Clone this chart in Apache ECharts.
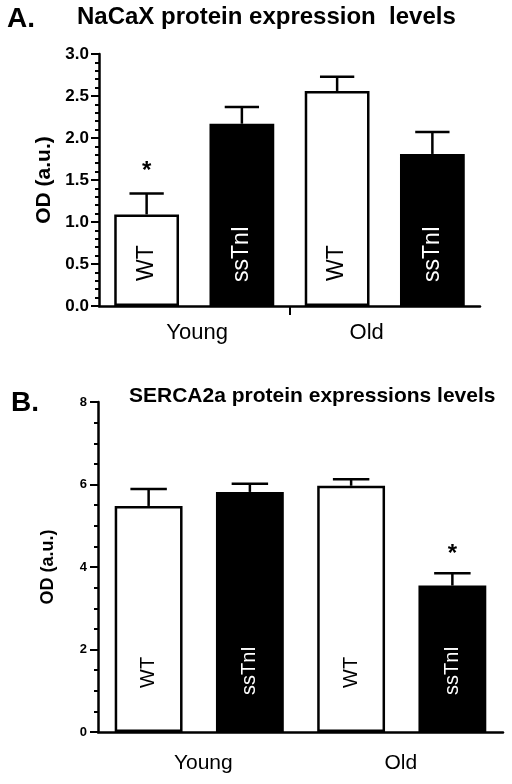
<!DOCTYPE html>
<html>
<head>
<meta charset="utf-8">
<script src="https://cdn.jsdelivr.net/npm/echarts@6/dist/echarts.min.js"></script>
<style>
html,body{margin:0;padding:0;background:#fff;}
#chart{width:512px;height:784px;}
</style>
</head>
<body>
<div id="chart"></div>
<script>
// ---- data ----
const genotypes = ['WT', 'ssTnI', 'WT', 'ssTnI'];
const ageGroups = ['Young', 'Old'];
const barKeys = ['Young WT', 'Young ssTnI', 'Old WT', 'Old ssTnI'];

const nacaxMean = [1.09, 2.17, 2.56, 1.81];
const nacaxSem  = [0.25, 0.20, 0.17, 0.26];
const nacaxSig  = [true, false, false, false];

const sercaMean = [5.48, 5.82, 5.97, 3.55];
const sercaSem  = [0.41, 0.20, 0.16, 0.30];
const sercaSig  = [false, false, false, true];

const nacaxTicks = [0, 0.5, 1, 1.5, 2, 2.5, 3];
const sercaTicks = [0, 2, 4, 6, 8];

// ---- chart ----
const FONT = 'Liberation Sans, Arial, sans-serif';
const chart = echarts.init(document.getElementById('chart'), null, {renderer: 'canvas'});

function barData(means, distWT, distTn) {
  return means.map((v, i) => ({
    value: v,
    itemStyle: {
      color: genotypes[i] === 'WT' ? '#ffffff' : '#000000',
      borderColor: '#000', borderWidth: 2.5
    },
    label: {color: genotypes[i] === 'WT' ? '#000' : '#fff', distance: genotypes[i] === 'WT' ? distWT : distTn}
  }));
}

function errSeries(xi, yi, means, sems, sig, starGap) {
  return {
    type: 'custom', xAxisIndex: xi, yAxisIndex: yi, z: 5,
    data: means.map((m, i) => [i, m, m + sems[i], sig[i] ? 1 : 0]),
    renderItem: function (params, api) {
      const i = api.value(0);
      const base = api.coord([i, api.value(1)]);
      const top = api.coord([i, api.value(2)]);
      const half = api.size([1, 0])[0] * 0.18;
      const st = {stroke: '#000', lineWidth: 2.5};
      const children = [
        {type: 'line', shape: {x1: base[0], y1: base[1], x2: top[0], y2: top[1]}, style: st},
        {type: 'line', shape: {x1: top[0] - half, y1: top[1], x2: top[0] + half, y2: top[1]}, style: st}
      ];
      if (api.value(3)) {
        children.push({type: 'text', style: {
          text: '*', x: top[0], y: top[1] - starGap, align: 'center', verticalAlign: 'middle',
          font: 'bold 24px ' + FONT, fill: '#000'}});
      }
      return {type: 'group', children: children};
    }
  };
}

const barLabel = (size) => ({
  show: true, position: 'insideBottom', rotate: 90, align: 'left', verticalAlign: 'middle',
  fontFamily: FONT, fontSize: size,
  formatter: p => genotypes[p.dataIndex]
});

const option = {
  backgroundColor: '#fff',
  animation: false,
  title: [
    {text: 'A.', left: 7, top: 5, padding: 0, textStyle: {fontFamily: FONT, fontSize: 28, fontWeight: 'bold', color: '#000'}},
    {text: 'NaCaX protein expression  levels', left: 77, top: 5, padding: 0, textStyle: {fontFamily: FONT, fontSize: 24, fontWeight: 'bold', color: '#000'}},
    {text: 'B.', left: 11, top: 389, padding: 0, textStyle: {fontFamily: FONT, fontSize: 28, fontWeight: 'bold', color: '#000'}},
    {text: 'SERCA2a protein expressions levels', left: 129, top: 386, padding: 0, textStyle: {fontFamily: FONT, fontSize: 21, fontWeight: 'bold', color: '#000'}}
  ],
  grid: [
    {left: 99, right: 32, top: 54, bottom: 478},
    {left: 98, right: 9, top: 402, bottom: 52}
  ],
  xAxis: [
    {type: 'category', gridIndex: 0, data: barKeys, boundaryGap: true,
     axisLine: {lineStyle: {color: '#000', width: 2.5}}, axisTick: {show: false}, axisLabel: {show: false}},
    {type: 'value', gridIndex: 0, min: 0, max: 4, position: 'bottom',
     axisLine: {show: false}, splitLine: {show: false},
     axisTick: {show: true, customValues: [2], length: 9, lineStyle: {color: '#000', width: 2}},
     axisLabel: {show: true, customValues: [1.03, 2.81], margin: 16,
       formatter: v => ageGroups[v < 2 ? 0 : 1], fontFamily: FONT, fontSize: 22, color: '#000'}},
    {type: 'category', gridIndex: 1, data: barKeys, boundaryGap: true,
     axisLine: {lineStyle: {color: '#000', width: 2.5}}, axisTick: {show: false}, axisLabel: {show: false}},
    {type: 'value', gridIndex: 1, min: 0, max: 4, position: 'bottom',
     axisLine: {show: false}, splitLine: {show: false}, axisTick: {show: false},
     axisLabel: {show: true, customValues: [1.04, 2.99], margin: 21,
       formatter: v => ageGroups[v < 2 ? 0 : 1], fontFamily: FONT, fontSize: 21, color: '#000'}}
  ],
  yAxis: [
    {type: 'value', gridIndex: 0, min: 0, max: 3, interval: 0.5,
     name: 'OD (a.u.)', nameLocation: 'middle', nameGap: 42,
     nameTextStyle: {fontFamily: FONT, fontSize: 21, fontWeight: 'bold', color: '#000'},
     axisLine: {show: true, lineStyle: {color: '#000', width: 2.5}},
     axisTick: {show: true, length: 8, lineStyle: {color: '#000', width: 2}},
     minorTick: {show: true, splitNumber: 5, length: 4, lineStyle: {color: '#000', width: 2}},
     splitLine: {show: false},
     axisLabel: {margin: 10, fontFamily: FONT, fontSize: 17, fontWeight: 'bold', color: '#000',
       formatter: v => nacaxTicks.includes(v) ? v.toFixed(1) : ''}},
    {type: 'value', gridIndex: 1, min: 0, max: 8, interval: 2,
     name: 'OD (a.u.)', nameLocation: 'middle', nameGap: 41,
     nameTextStyle: {fontFamily: FONT, fontSize: 18, fontWeight: 'bold', color: '#000'},
     axisLine: {show: true, lineStyle: {color: '#000', width: 2.5}},
     axisTick: {show: true, length: 8, lineStyle: {color: '#000', width: 2}},
     minorTick: {show: true, splitNumber: 4, length: 4, lineStyle: {color: '#000', width: 2}},
     splitLine: {show: false},
     axisLabel: {margin: 11, fontFamily: FONT, fontSize: 13, fontWeight: 'bold', color: '#000',
       formatter: v => sercaTicks.includes(v) ? String(v) : ''}}
  ],
  series: [
    {type: 'bar', xAxisIndex: 0, yAxisIndex: 0, barWidth: '68%', data: barData(nacaxMean, 25, 24), label: barLabel(23)},
    errSeries(0, 0, nacaxMean, nacaxSem, nacaxSig, 22),
    {type: 'bar', xAxisIndex: 2, yAxisIndex: 1, barWidth: '67%', data: barData(sercaMean, 44, 37), label: barLabel(20)},
    errSeries(2, 1, sercaMean, sercaSem, sercaSig, 19)
  ]
};
chart.setOption(option);
</script>
</body>
</html>
